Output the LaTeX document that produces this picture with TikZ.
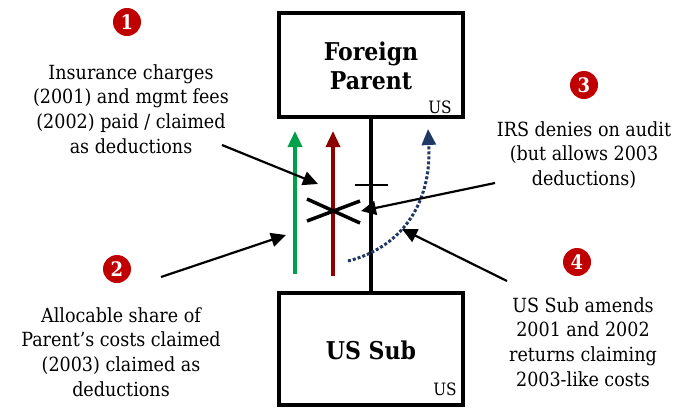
\documentclass[tikz,border=0pt]{standalone}
\usepackage{fontspec}
\setmainfont{DejaVu Serif Condensed}
\usetikzlibrary{arrows.meta}
\definecolor{numred}{RGB}{192,0,0}
\definecolor{flowgreen}{RGB}{0,160,75}
\definecolor{flowred}{RGB}{140,0,0}
\definecolor{flownavy}{RGB}{31,56,100}
\begin{document}
\begin{tikzpicture}[x=1pt,y=-1pt,
  entity/.style={draw=black,line width=4pt,minimum width=184pt,inner sep=0pt},
  title/.style={font=\fontsize{24.5}{29}\selectfont\bfseries,align=center},
  tag/.style={font=\fontsize{17}{18}\selectfont,inner sep=0pt},
  note/.style={font=\fontsize{19.5}{24.8}\selectfont,align=center},
  badge/.style={circle,fill=numred,text=white,inner sep=0pt,minimum size=28pt,
    font=\fontsize{20}{20}\selectfont\bfseries},
  callout/.style={line width=2.2pt,-{Triangle[length=15pt,width=14pt]}},
  flow/.style={line width=3.5pt,-{Triangle[length=16pt,width=14pt]}}]
\useasboundingbox (0,0) rectangle (686,408);

% ownership boxes
\node[entity,minimum height=104pt] (fp) at (371,65) {};
\node[title] at (371,66) {Foreign\\Parent};
\node[tag] (fptag) at (440,107) {US};
\node[entity,minimum height=112pt] (sub) at (371,349) {};
\node[title] at (371,350) {US Sub};
\node[tag] (subtag) at (445,389) {US};
\draw[line width=4pt] (fp.south) -- (sub.north);

% payment flows
\coordinate (g0) at (295,274); \coordinate (g1) at (295,131);
\coordinate (r0) at (333,276); \coordinate (r1) at (333,131);
\draw[flow,flowgreen] (g0) -- (g1);
\draw[flow,flowred] (r0) -- (r1);

% stop mark on the ownership line
\coordinate (t0) at (355,185); \coordinate (t1) at (388,185);
\draw[line width=2.5pt] (t0) -- (t1);

% cross over the flows
\coordinate (x0) at (307,199); \coordinate (x1) at (360,223);
\coordinate (x2) at (307,221); \coordinate (x3) at (360,201);
\draw[line width=3.5pt] (x0) -- (x1);
\draw[line width=3.5pt] (x2) -- (x3);

% amended claim
\coordinate (d0) at (348,261); \coordinate (d1) at (428,129);
\draw[flownavy,line width=3pt,dotted,-{Triangle[length=16pt,width=14pt]}]
  (d0) .. controls (400,248) and (432,205) .. (d1);

% badges and notes
\node[badge] (b1) at (127,22) {1};
\node[note] (n1) at (131,109) {Insurance charges\\(2001) and mgmt fees\\(2002) paid / claimed\\as deductions};
\node[badge] (b2) at (117,269) {2};
\node[note] (n2) at (121,352) {Allocable share of\\Parent’s costs claimed\\(2003) claimed as\\deductions};
\node[badge] (b3) at (584,85) {3};
\node[note] (n3) at (584,155) {IRS denies on audit\\(but allows 2003\\deductions)};
\node[badge] (b4) at (577,262) {4};
\node[note] (n4) at (583,342) {US Sub amends\\2001 and 2002\\returns claiming\\2003-like costs};

% callouts
\coordinate (c1) at (222,145); \coordinate (c1t) at (318,184);
\coordinate (c2) at (161,277); \coordinate (c2t) at (286,235);
\coordinate (c3) at (495,183); \coordinate (c3t) at (361,211);
\coordinate (c4) at (507,281); \coordinate (c4t) at (402,229);
\draw[callout] (c1) -- (c1t);
\draw[callout] (c2) -- (c2t);
\draw[callout] (c3) -- (c3t);
\draw[callout] (c4) -- (c4t);
\end{tikzpicture}
\end{document}
